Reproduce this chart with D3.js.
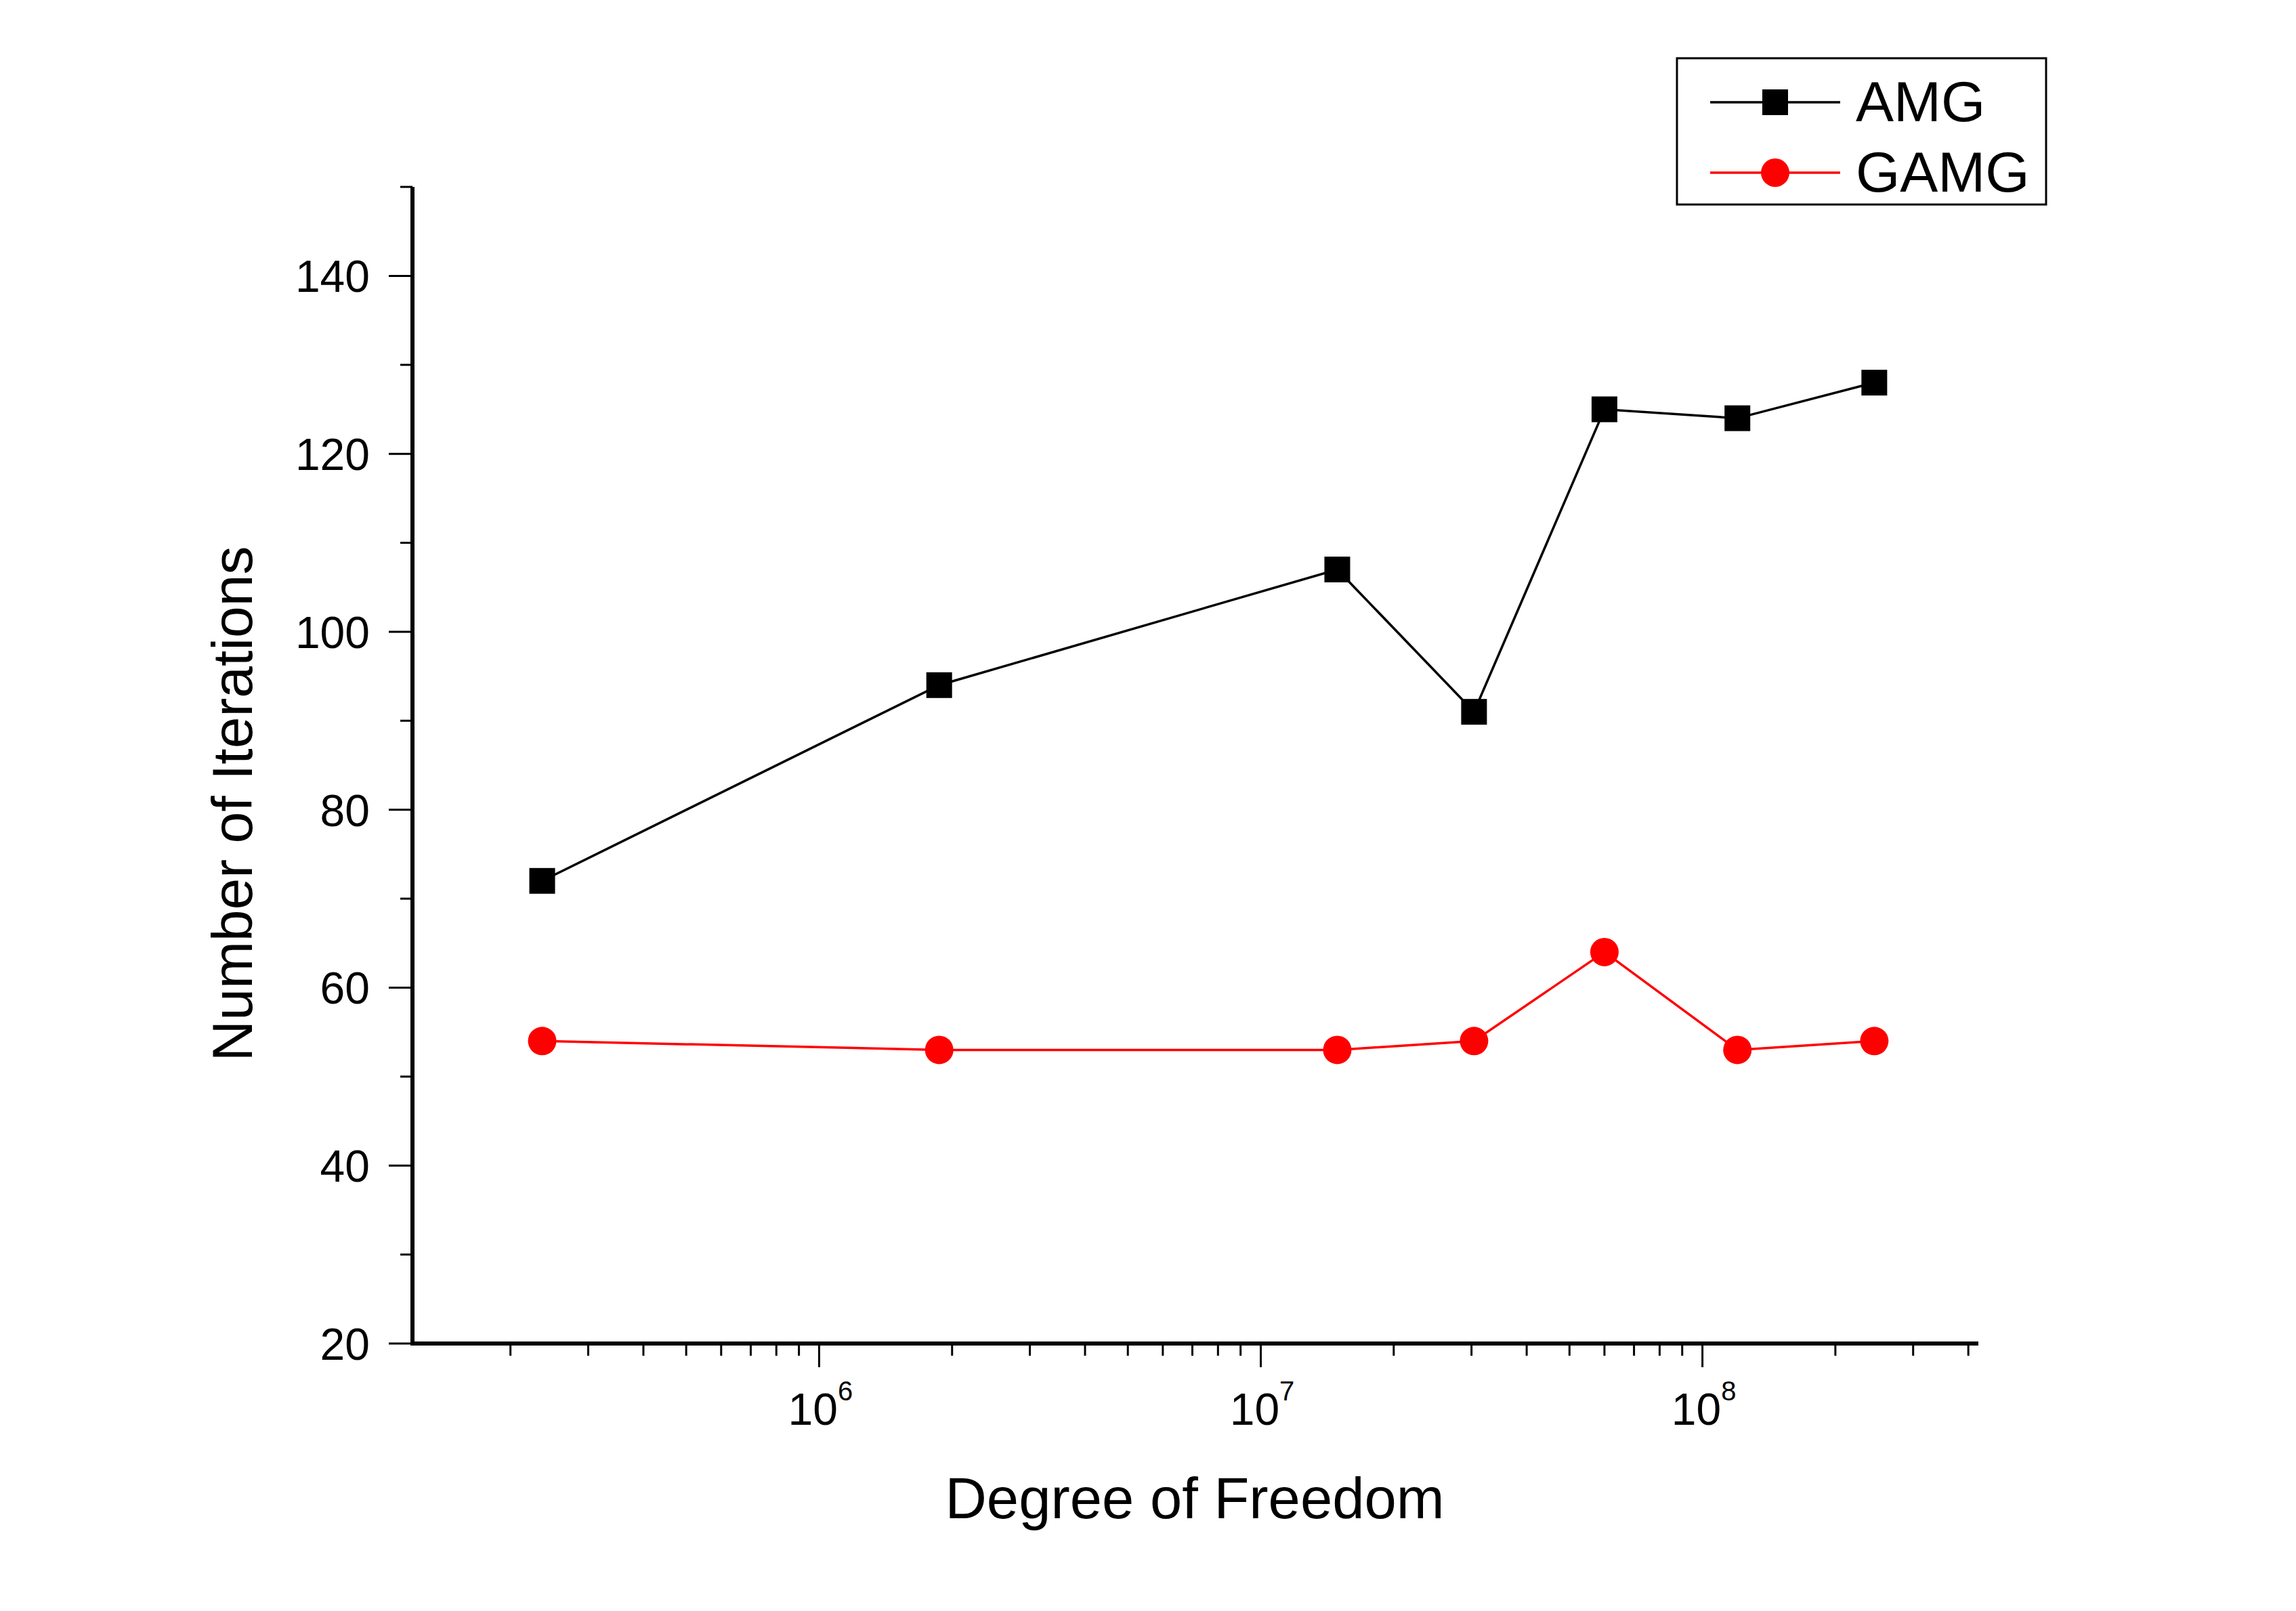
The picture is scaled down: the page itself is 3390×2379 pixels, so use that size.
<!DOCTYPE html>
<html>
<head>
<meta charset="utf-8">
<script src="https://cdnjs.cloudflare.com/ajax/libs/d3/7.8.5/d3.min.js"></script>
<style>
  body { margin: 0; background: #fff; }
  text { font-family: "Liberation Sans", Arial, sans-serif; fill: #000; }
</style>
</head>
<body>
<svg id="chart"></svg>
<script>
const width = 3390;
const height = 2379;

// data
const dof = [2.36e5, 1.87e6, 1.49e7, 3.04e7, 6.0e7, 1.2e8, 2.45e8];
const amg = [72, 94, 107, 91, 125, 124, 128];
const gamg = [54, 53, 53, 54, 64, 53, 54];
const seriesNames = ["AMG", "GAMG"];
const yTicks = [20, 40, 60, 80, 100, 120, 140];
const xMajor = [1e6, 1e7, 1e8];

const svg = d3.select("#chart").attr("width", width).attr("height", height);

const x = d3.scaleLog().domain([1.2e5, 4.2e8]).range([609, 2920]);
const y = d3.scaleLinear().domain([20, 150]).range([1984, 276]);

// minor ticks on x: 2..9 x 10^k inside the domain
const xMinor = [];
for (let k = 5; k <= 8; k++) {
  for (let m = 2; m <= 9; m++) {
    const v = m * Math.pow(10, k);
    if (v >= x.domain()[0] && v <= x.domain()[1]) xMinor.push(v);
  }
}
const yMinor = d3.range(30, 151, 20);

// x axis
const gx = svg.append("g");
gx.selectAll(".xminor").data(xMinor).enter().append("line")
  .attr("x1", d => x(d)).attr("x2", d => x(d))
  .attr("y1", y(20)).attr("y2", y(20) + 18)
  .attr("stroke", "#000").attr("stroke-width", 3);
gx.selectAll(".xmajor").data(xMajor).enter().append("line")
  .attr("x1", d => x(d)).attr("x2", d => x(d))
  .attr("y1", y(20)).attr("y2", y(20) + 35)
  .attr("stroke", "#000").attr("stroke-width", 3);
const xl = gx.selectAll(".xlab").data(xMajor).enter().append("text")
  .attr("x", d => x(d) + 2).attr("y", 2104)
  .attr("text-anchor", "middle")
  .attr("font-size", 66);
xl.append("tspan").text("10");
xl.append("tspan").attr("dy", -36).attr("font-size", 40).text(d => Math.round(Math.log10(d)));

// y axis
const gy = svg.append("g");
gy.selectAll(".yminor").data(yMinor).enter().append("line")
  .attr("x1", 609).attr("x2", 591)
  .attr("y1", d => y(d)).attr("y2", d => y(d))
  .attr("stroke", "#000").attr("stroke-width", 3);
gy.selectAll(".ymajor").data(yTicks).enter().append("line")
  .attr("x1", 609).attr("x2", 574)
  .attr("y1", d => y(d)).attr("y2", d => y(d))
  .attr("stroke", "#000").attr("stroke-width", 3);
gy.selectAll(".ylab").data(yTicks).enter().append("text")
  .attr("x", 546).attr("y", d => y(d) + 24)
  .attr("text-anchor", "end")
  .attr("font-size", 66)
  .text(d => d);

// axis lines
svg.append("line").attr("x1", 606).attr("x2", 2921).attr("y1", y(20)).attr("y2", y(20))
  .attr("stroke", "#000").attr("stroke-width", 6);
svg.append("line").attr("x1", 609).attr("x2", 609).attr("y1", y(150)).attr("y2", y(20) + 3)
  .attr("stroke", "#000").attr("stroke-width", 6);

// axis titles
svg.append("text").attr("x", 1764).attr("y", 2242).attr("text-anchor", "middle")
  .attr("font-size", 85).text("Degree of Freedom");
svg.append("text").attr("transform", "translate(372,1187) rotate(-90)")
  .attr("text-anchor", "middle").attr("font-size", 84).text("Number of Iterations");

// series
const line = d3.line().x(d => x(d[0])).y(d => y(d[1]));
const amgPts = dof.map((d, i) => [d, amg[i]]);
const gamgPts = dof.map((d, i) => [d, gamg[i]]);

svg.append("path").datum(amgPts).attr("d", line)
  .attr("fill", "none").attr("stroke", "#000").attr("stroke-width", 3.5);
svg.append("path").datum(gamgPts).attr("d", line)
  .attr("fill", "none").attr("stroke", "#ff0000").attr("stroke-width", 3.5);

svg.selectAll(".amg").data(amgPts).enter().append("rect")
  .attr("x", d => x(d[0]) - 19).attr("y", d => y(d[1]) - 19)
  .attr("width", 38).attr("height", 38).attr("fill", "#000");
svg.selectAll(".gamg").data(gamgPts).enter().append("circle")
  .attr("cx", d => x(d[0])).attr("cy", d => y(d[1]))
  .attr("r", 21).attr("fill", "#ff0000");

// legend
const legend = svg.append("g");
legend.append("rect").attr("x", 2476).attr("y", 86).attr("width", 545).attr("height", 216)
  .attr("fill", "#fff").attr("stroke", "#000").attr("stroke-width", 3);
const rows = [
  { name: seriesNames[0], color: "#000", cy: 151 },
  { name: seriesNames[1], color: "#ff0000", cy: 255 }
];
rows.forEach((r, i) => {
  legend.append("line").attr("x1", 2525).attr("x2", 2717).attr("y1", r.cy).attr("y2", r.cy)
    .attr("stroke", r.color).attr("stroke-width", 3.5);
  if (i === 0) {
    legend.append("rect").attr("x", 2621 - 19).attr("y", r.cy - 19)
      .attr("width", 38).attr("height", 38).attr("fill", r.color);
  } else {
    legend.append("circle").attr("cx", 2621).attr("cy", r.cy).attr("r", 21).attr("fill", r.color);
  }
  legend.append("text").attr("x", 2740).attr("y", r.cy + 28)
    .attr("font-size", 84).text(r.name);
});
</script>
</body>
</html>
